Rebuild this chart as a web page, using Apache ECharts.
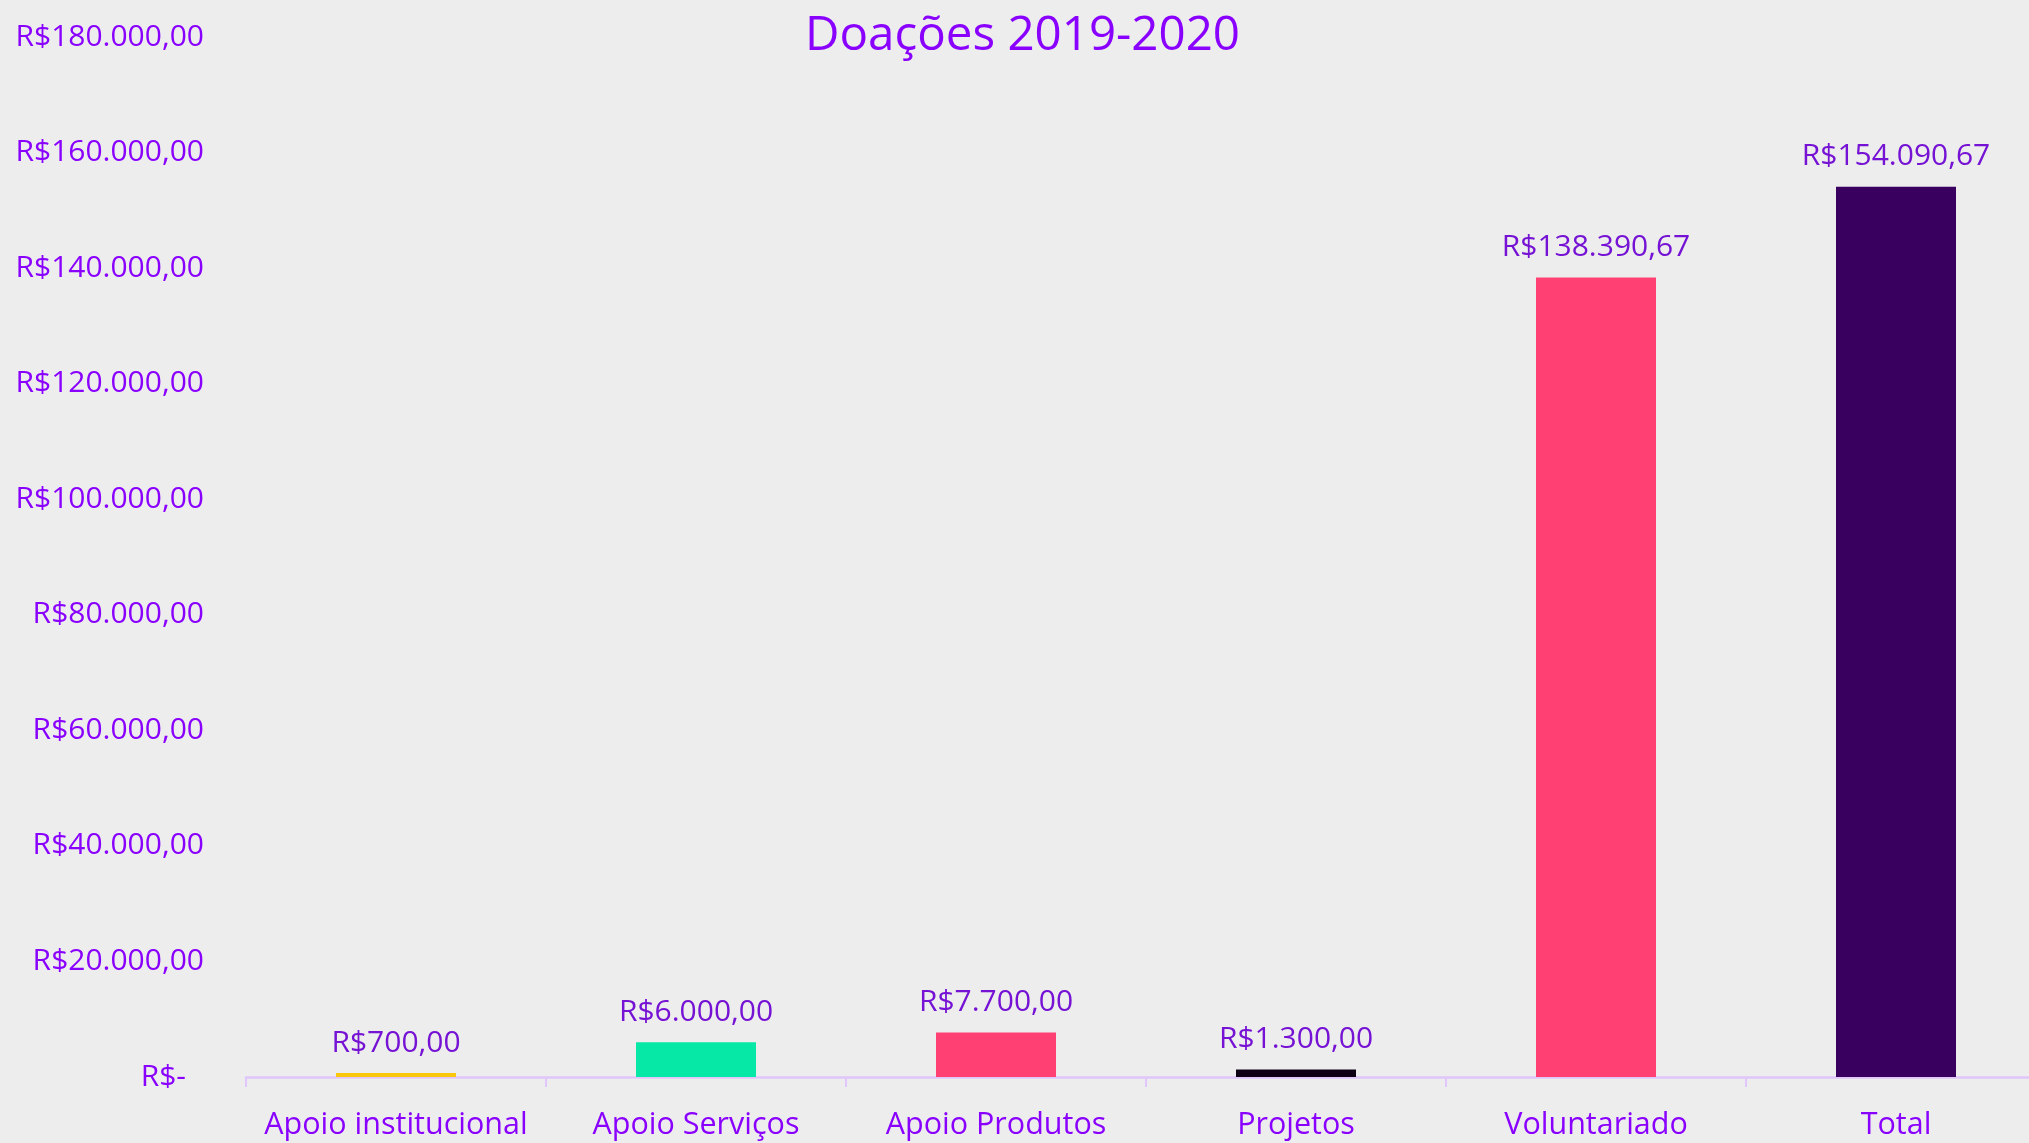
<!DOCTYPE html>
<html>
<head>
<meta charset="utf-8">
<script src="https://cdn.jsdelivr.net/npm/echarts@6/dist/echarts.min.js"></script>
<style>
html,body{margin:0;padding:0;background:#EDEDED;}
#chart{width:2029px;height:1143px;}
</style>
</head>
<body>
<div id="chart"></div>
<script>
const titleText = 'Doações 2019-2020';
const categories = ['Apoio institucional', 'Apoio Serviços', 'Apoio Produtos', 'Projetos', 'Voluntariado', 'Total'];
const values = [700, 6000, 7700, 1300, 138390.67, 154090.67];
const barColors = ['#F9C80E', '#05E8A6', '#FF4073', '#0D0015', '#FF4073', '#3A0060'];
const yTicks = [0, 20000, 40000, 60000, 80000, 100000, 120000, 140000, 160000, 180000];

function brl(v) {
  if (v === 0) return 'R$-';
  const fixed = v.toFixed(2);
  let [intPart, dec] = fixed.split('.');
  intPart = intPart.replace(/\B(?=(\d{3})+(?!\d))/g, '.');
  return 'R$' + intPart + ',' + dec;
}

const FONT = '"Open Sans", "Noto Sans", sans-serif';
const chart = echarts.init(document.getElementById('chart'));
chart.setOption({
  backgroundColor: '#EDEDED',
  animation: false,
  title: {
    text: titleText,
    left: 800,
    top: 7,
    textStyle: { color: '#8A00FF', fontSize: 47.5, fontWeight: 'normal', fontFamily: FONT }
  },
  grid: { left: 246, width: 1800, top: 37, bottom: 66, containLabel: false, outerBoundsMode: 'none' },
  xAxis: {
    type: 'category',
    data: categories,
    axisLine: { lineStyle: { color: '#E0C6FA', width: 2.5 } },
    axisTick: { show: true, length: 10, lineStyle: { color: '#E0C6FA', width: 2 } },
    axisLabel: { color: '#8A00FF', fontSize: 30.5, fontFamily: FONT, margin: 33, interval: 0 }
  },
  yAxis: {
    type: 'value',
    min: yTicks[0],
    max: yTicks[yTicks.length - 1],
    interval: yTicks[1] - yTicks[0],
    splitLine: { show: false },
    axisLine: { show: false },
    axisTick: { show: false },
    axisLabel: {
      color: '#8A00FF', fontSize: 30, fontFamily: FONT, margin: 42,
      formatter: function (v) { return v === 0 ? '{z|R$-}' : brl(v); },
      rich: { z: { color: '#8A00FF', fontSize: 30, fontFamily: FONT, padding: [0, 18, 0, 0] } }
    }
  },
  series: [{
    type: 'bar',
    data: values.map((v, i) => ({ value: v, itemStyle: { color: barColors[i] } })),
    barWidth: '40%',
    label: {
      show: true,
      position: 'top',
      distance: 15,
      color: '#7512D4',
      fontSize: 30,
      fontFamily: FONT,
      formatter: p => brl(p.value)
    }
  }]
});
</script>
</body>
</html>
